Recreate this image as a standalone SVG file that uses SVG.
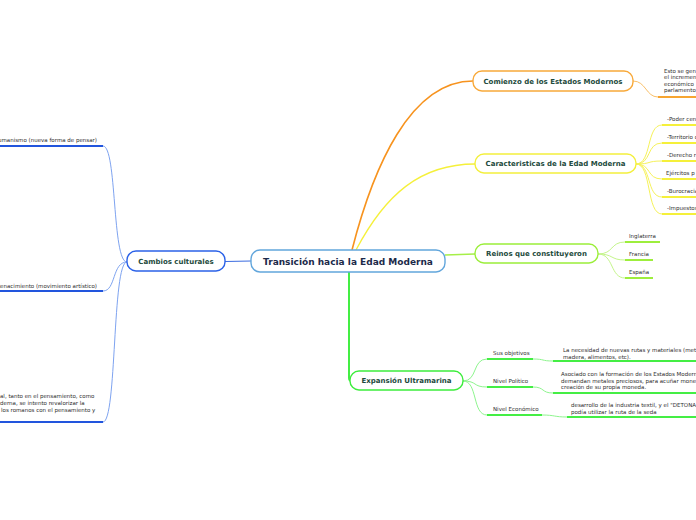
<svg xmlns="http://www.w3.org/2000/svg" width="696" height="520" viewBox="0 0 696 520">
<style>
.node rect{fill:#ffffff;stroke-width:1.4}
.t1{font-family:"DejaVu Sans",Verdana,sans-serif;font-weight:bold;font-size:9px;fill:#1c2a4a;text-anchor:middle}
.t2{font-family:"DejaVu Sans",Verdana,sans-serif;font-weight:bold;font-size:7px;fill:#1d4a3c;text-anchor:middle}
.s{font-family:"DejaVu Sans",Verdana,sans-serif;font-size:5.5px;fill:#2e2e2e}
.e{text-anchor:end}
.c{fill:none;stroke-width:1}
.u{fill:none;stroke-width:2}
</style>
<rect width="696" height="520" fill="#ffffff"/>
<g id="connectors">
  <path class="c" d="M225,261.5 L251,261" stroke="#3a6be0"/>
  <path d="M352,250 C373,168 410,81 473,81" fill="none" stroke="#f7931e" stroke-width="1.6"/>
  <path d="M356,250 C385,195 420,164 475,164" fill="none" stroke="#f5f03a" stroke-width="1.3"/>
  <path d="M445,255 L475,254" fill="none" stroke="#a6ef48" stroke-width="1.4"/>
  <path d="M349,272 L349,378 Q349,381 352,381" fill="none" stroke="#44ee44" stroke-width="2"/>
  <path class="c" d="M633,81 C646,81 646,97 658,97" stroke="#f9c06a"/>
  <path class="u" d="M658,97 L696,97" stroke="#f7a531"/>
  <g stroke="#f6f25a">
    <path class="c" d="M636,164 C652,164 646,125 662,125"/>
    <path class="c" d="M636,164 C652,164 646,143 662,143"/>
    <path class="c" d="M636,164 C652,164 646,161 662,161"/>
    <path class="c" d="M636,164 C652,164 646,179 662,179"/>
    <path class="c" d="M636,164 C652,164 646,197 662,197"/>
    <path class="c" d="M636,164 C652,164 646,214 662,214"/>
  </g>
  <g stroke="#f5f03a">
    <path class="u" d="M662,125 L696,125"/>
    <path class="u" d="M662,143 L696,143"/>
    <path class="u" d="M662,161 L696,161"/>
    <path class="u" d="M662,179 L696,179"/>
    <path class="u" d="M662,197 L696,197"/>
    <path class="u" d="M662,214 L696,214"/>
  </g>
  <g stroke="#c4f58a">
    <path class="c" d="M598,254 C614,254 610,242 625,242"/>
    <path class="c" d="M598,254 C614,254 610,260 625,260"/>
    <path class="c" d="M598,254 C614,254 610,278 625,278"/>
  </g>
  <g stroke="#9dee3c">
    <path class="u" d="M625,242 L660,242"/>
    <path class="u" d="M625,260 L653,260"/>
    <path class="u" d="M625,278 L653,278"/>
  </g>
  <g stroke="#8ef58e">
    <path class="c" d="M463,381 C478,381 472,359 487,359"/>
    <path class="c" d="M463,381 C478,381 472,387 487,387"/>
    <path class="c" d="M463,381 C478,381 472,415 487,415"/>
    <path class="c" d="M533,359 C545,359 541,361 553,361"/>
    <path class="c" d="M533,387 C545,387 541,393 553,393"/>
    <path class="c" d="M542,415 C555,415 554,417 567,417"/>
  </g>
  <g stroke="#44ee44">
    <path class="u" d="M487,359 L533,359"/>
    <path class="u" d="M487,387 L533,387"/>
    <path class="u" d="M487,415 L542,415"/>
    <path class="u" d="M553,361 L696,361"/>
    <path class="u" d="M553,393 L696,393"/>
    <path class="u" d="M567,417 L696,417"/>
  </g>
  <g stroke="#7ea3f0">
    <path class="c" d="M127,262 C112,262 117,146 103,146"/>
    <path class="c" d="M127,262 C112,262 116,291 103,291"/>
    <path class="c" d="M127,262 C112,262 117,422 103,422"/>
  </g>
  <g stroke="#2255dd">
    <path class="u" d="M0,146 L103,146"/>
    <path class="u" d="M0,291 L103,291"/>
    <path class="u" d="M0,422 L103,422"/>
  </g>
</g>
<g id="central" class="node">
  <rect x="251" y="250" width="194" height="22" rx="9" stroke="#62a6dc" stroke-width="1.5"/>
  <text class="t1" x="348" y="264.5">Transición hacia la Edad Moderna</text>
</g>
<g id="cambios" class="node">
  <rect x="127" y="251" width="98" height="20" rx="9" stroke="#2b62e8"/>
  <text class="t2" x="176" y="263.5">Cambios culturales</text>
</g>
<g id="comienzo" class="node">
  <rect x="473" y="71" width="160" height="20" rx="9" stroke="#f8a93a"/>
  <text class="t2" x="553" y="83.5">Comienzo de los Estados Modernos</text>
</g>
<g id="caracteristicas" class="node">
  <rect x="475" y="154" width="161" height="19" rx="9" stroke="#f3ef3c"/>
  <text class="t2" x="555.5" y="166">Caracteristicas de la Edad Moderna</text>
</g>
<g id="reinos" class="node">
  <rect x="475" y="244" width="123" height="19" rx="9" stroke="#9bee3a"/>
  <text class="t2" x="536.5" y="256">Reinos que constituyeron</text>
</g>
<g id="expansion" class="node">
  <rect x="350" y="371" width="113" height="19" rx="9" stroke="#3ded3d"/>
  <text class="t2" x="406.5" y="383">Expansión Ultramarina</text>
</g>
<g id="comienzo-texto">
  <text class="s" x="664" y="72.5">Esto se gen</text>
  <text class="s" x="664" y="79">el incremen</text>
  <text class="s" x="664" y="85.5">económico </text>
  <text class="s" x="664" y="92">parlamento</text>
</g>
<g id="caracteristicas-items">
  <text class="s" x="667" y="121">-Poder cen</text>
  <text class="s" x="667" y="139">-Territorio d</text>
  <text class="s" x="667" y="157">-Derecho r</text>
  <text class="s" x="666" y="175">Ejércitos p</text>
  <text class="s" x="667" y="193">-Burocracia</text>
  <text class="s" x="667" y="210">-Impuestos</text>
</g>
<g id="reinos-items">
  <text class="s" x="629" y="238">Inglaterra</text>
  <text class="s" x="629" y="256">Francia</text>
  <text class="s" x="629" y="274">España</text>
</g>
<g id="expansion-items">
  <text class="s" x="493" y="355">Sus objetivos</text>
  <text class="s" x="493" y="383">Nivel Político</text>
  <text class="s" x="493" y="411">Nivel Económico</text>
  <text class="s" x="563" y="352">La necesidad de nuevas rutas y materiales (met</text>
  <text class="s" x="563" y="358.5">madera, alimentos, etc).</text>
  <text class="s" x="561" y="376">Asociado con la formación de los Estados Modern</text>
  <text class="s" x="561" y="382.5">demandan metales preciosos, para acuñar mone</text>
  <text class="s" x="561" y="389">creación de su propia moneda.</text>
  <text class="s" x="571" y="407">desarrollo de la industria textil, y el "DETONA</text>
  <text class="s" x="571" y="413.5">podía utilizar la ruta de la seda</text>
</g>
<g id="cambios-items">
  <text class="s e" x="97" y="142">Humanismo (nueva forma de pensar)</text>
  <text class="s e" x="97" y="287.5">Renacimiento (movimiento artístico)</text>
  <text class="s" x="0" y="398">al, tanto en el pensamiento, como</text>
  <text class="s" x="0" y="405">derna, se intento revalorizar la</text>
  <text class="s" x="1" y="412">los romanos con el pensamiento y</text>
</g>
</svg>
